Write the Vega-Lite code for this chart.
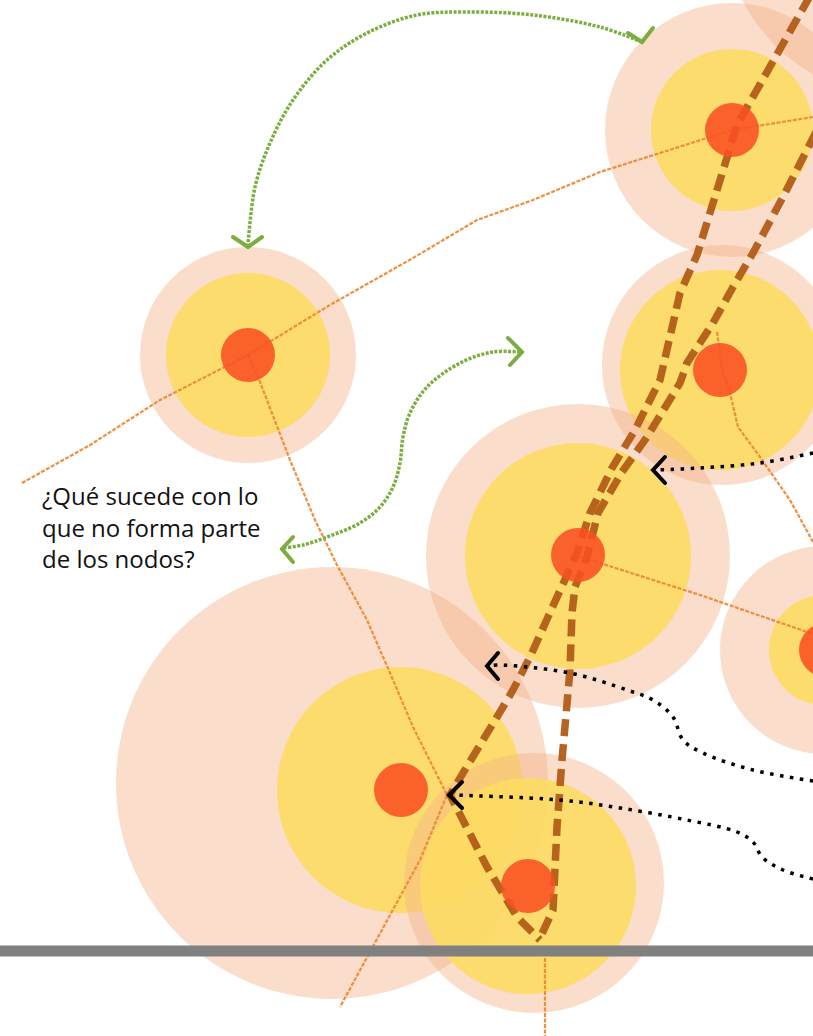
{
  "$schema": "https://vega.github.io/schema/vega-lite/v6.json",
  "width": 813,
  "height": 1036,
  "autosize": {"type": "fit", "contains": "padding"},
  "padding": 0,
  "background": "white",
  "config": {"view": {"stroke": null}},
  "datasets": {
    "circulos": [
      {"nodo": "N0", "capa": "halo", "x": 900, "y": -80, "r": 177},
      {"nodo": "N1", "capa": "halo", "x": 732, "y": 130, "r": 127},
      {"nodo": "N1", "capa": "area", "x": 732, "y": 130, "r": 81},
      {"nodo": "N2", "capa": "halo", "x": 248, "y": 355, "r": 108},
      {"nodo": "N2", "capa": "area", "x": 248, "y": 355, "r": 82},
      {"nodo": "N3", "capa": "halo", "x": 722, "y": 365, "r": 120},
      {"nodo": "N3", "capa": "area", "x": 720, "y": 370, "r": 100},
      {"nodo": "N5", "capa": "halo", "x": 824, "y": 650, "r": 104},
      {"nodo": "N5", "capa": "area", "x": 824, "y": 650, "r": 55},
      {"nodo": "N4", "capa": "halo", "x": 578, "y": 556, "r": 152},
      {"nodo": "N4", "capa": "area", "x": 578, "y": 556, "r": 113},
      {"nodo": "N6", "capa": "halo", "x": 332, "y": 783, "r": 216},
      {"nodo": "N6", "capa": "area", "x": 400, "y": 790, "r": 123},
      {"nodo": "N7", "capa": "halo", "x": 534, "y": 883, "r": 130},
      {"nodo": "N7", "capa": "area", "x": 528, "y": 886, "r": 108},
      {"nodo": "N1", "capa": "nucleo", "x": 732, "y": 130, "r": 27},
      {"nodo": "N2", "capa": "nucleo", "x": 248, "y": 355, "r": 27},
      {"nodo": "N3", "capa": "nucleo", "x": 720, "y": 370, "r": 27},
      {"nodo": "N4", "capa": "nucleo", "x": 578, "y": 555, "r": 27},
      {"nodo": "N5", "capa": "nucleo", "x": 826, "y": 650, "r": 27},
      {"nodo": "N6", "capa": "nucleo", "x": 401, "y": 790, "r": 27},
      {"nodo": "N7", "capa": "nucleo", "x": 528, "y": 886, "r": 27}
    ],
    "trazos": [
      {"tipo": "enlace", "id": "L1", "i": 0, "x": 22, "y": 483},
      {"tipo": "enlace", "id": "L1", "i": 1, "x": 90, "y": 445},
      {"tipo": "enlace", "id": "L1", "i": 2, "x": 160, "y": 400},
      {"tipo": "enlace", "id": "L1", "i": 3, "x": 248, "y": 355},
      {"tipo": "enlace", "id": "L1", "i": 4, "x": 330, "y": 305},
      {"tipo": "enlace", "id": "L1", "i": 5, "x": 413, "y": 258},
      {"tipo": "enlace", "id": "L1", "i": 6, "x": 477, "y": 220},
      {"tipo": "enlace", "id": "L1", "i": 7, "x": 533, "y": 200},
      {"tipo": "enlace", "id": "L1", "i": 8, "x": 600, "y": 172},
      {"tipo": "enlace", "id": "L1", "i": 9, "x": 660, "y": 153},
      {"tipo": "enlace", "id": "L1", "i": 10, "x": 732, "y": 130},
      {"tipo": "enlace", "id": "L1", "i": 11, "x": 813, "y": 117},
      {"tipo": "enlace", "id": "L2", "i": 0, "x": 248, "y": 355},
      {"tipo": "enlace", "id": "L2", "i": 1, "x": 260, "y": 382},
      {"tipo": "enlace", "id": "L2", "i": 2, "x": 290, "y": 460},
      {"tipo": "enlace", "id": "L2", "i": 3, "x": 315, "y": 520},
      {"tipo": "enlace", "id": "L2", "i": 4, "x": 337, "y": 565},
      {"tipo": "enlace", "id": "L2", "i": 5, "x": 367, "y": 620},
      {"tipo": "enlace", "id": "L2", "i": 6, "x": 390, "y": 673},
      {"tipo": "enlace", "id": "L2", "i": 7, "x": 413, "y": 727},
      {"tipo": "enlace", "id": "L2", "i": 8, "x": 447, "y": 795},
      {"tipo": "enlace", "id": "L2", "i": 9, "x": 420, "y": 860},
      {"tipo": "enlace", "id": "L2", "i": 10, "x": 340, "y": 1007},
      {"tipo": "enlace", "id": "L3", "i": 0, "x": 578, "y": 556},
      {"tipo": "enlace", "id": "L3", "i": 1, "x": 700, "y": 595},
      {"tipo": "enlace", "id": "L3", "i": 2, "x": 813, "y": 634},
      {"tipo": "enlace", "id": "L4", "i": 0, "x": 717, "y": 332},
      {"tipo": "enlace", "id": "L4", "i": 1, "x": 722, "y": 368},
      {"tipo": "enlace", "id": "L4", "i": 2, "x": 730, "y": 393},
      {"tipo": "enlace", "id": "L4", "i": 3, "x": 738, "y": 427},
      {"tipo": "enlace", "id": "L4", "i": 4, "x": 760, "y": 457},
      {"tipo": "enlace", "id": "L4", "i": 5, "x": 790, "y": 500},
      {"tipo": "enlace", "id": "L4", "i": 6, "x": 813, "y": 542},
      {"tipo": "enlace", "id": "L5", "i": 0, "x": 545, "y": 958},
      {"tipo": "enlace", "id": "L5", "i": 1, "x": 545, "y": 1036},
      {"tipo": "ruta", "id": "B1", "i": 0, "x": 810, "y": -4},
      {"tipo": "ruta", "id": "B1", "i": 1, "x": 737, "y": 125},
      {"tipo": "ruta", "id": "B1", "i": 2, "x": 697, "y": 255},
      {"tipo": "ruta", "id": "B1", "i": 3, "x": 680, "y": 293},
      {"tipo": "ruta", "id": "B1", "i": 4, "x": 660, "y": 380},
      {"tipo": "ruta", "id": "B1", "i": 5, "x": 635, "y": 430},
      {"tipo": "ruta", "id": "B1", "i": 6, "x": 612, "y": 468},
      {"tipo": "ruta", "id": "B1", "i": 7, "x": 590, "y": 513},
      {"tipo": "ruta", "id": "B1", "i": 8, "x": 577, "y": 553},
      {"tipo": "ruta", "id": "B1", "i": 9, "x": 548, "y": 617},
      {"tipo": "ruta", "id": "B1", "i": 10, "x": 530, "y": 657},
      {"tipo": "ruta", "id": "B1", "i": 11, "x": 513, "y": 690},
      {"tipo": "ruta", "id": "B1", "i": 12, "x": 503, "y": 707},
      {"tipo": "ruta", "id": "B1", "i": 13, "x": 463, "y": 773},
      {"tipo": "ruta", "id": "B1", "i": 14, "x": 450, "y": 795},
      {"tipo": "ruta", "id": "B1", "i": 15, "x": 487, "y": 867},
      {"tipo": "ruta", "id": "B1", "i": 16, "x": 517, "y": 917},
      {"tipo": "ruta", "id": "B1", "i": 17, "x": 540, "y": 940},
      {"tipo": "ruta", "id": "B2", "i": 0, "x": 816, "y": 132},
      {"tipo": "ruta", "id": "B2", "i": 1, "x": 783, "y": 197},
      {"tipo": "ruta", "id": "B2", "i": 2, "x": 753, "y": 253},
      {"tipo": "ruta", "id": "B2", "i": 3, "x": 733, "y": 287},
      {"tipo": "ruta", "id": "B2", "i": 4, "x": 713, "y": 323},
      {"tipo": "ruta", "id": "B2", "i": 5, "x": 687, "y": 363},
      {"tipo": "ruta", "id": "B2", "i": 6, "x": 680, "y": 383},
      {"tipo": "ruta", "id": "B2", "i": 7, "x": 647, "y": 437},
      {"tipo": "ruta", "id": "B2", "i": 8, "x": 622, "y": 472},
      {"tipo": "ruta", "id": "B2", "i": 9, "x": 598, "y": 513},
      {"tipo": "ruta", "id": "B2", "i": 10, "x": 587, "y": 557},
      {"tipo": "ruta", "id": "B2", "i": 11, "x": 575, "y": 587},
      {"tipo": "ruta", "id": "B2", "i": 12, "x": 572, "y": 613},
      {"tipo": "ruta", "id": "B2", "i": 13, "x": 570, "y": 670},
      {"tipo": "ruta", "id": "B2", "i": 14, "x": 562, "y": 760},
      {"tipo": "ruta", "id": "B2", "i": 15, "x": 557, "y": 827},
      {"tipo": "ruta", "id": "B2", "i": 16, "x": 553, "y": 910},
      {"tipo": "ruta", "id": "B2", "i": 17, "x": 540, "y": 938},
      {"tipo": "verde", "id": "G1", "i": 0, "x": 642, "y": 42},
      {"tipo": "verde", "id": "G1", "i": 1, "x": 600, "y": 27},
      {"tipo": "verde", "id": "G1", "i": 2, "x": 533, "y": 15},
      {"tipo": "verde", "id": "G1", "i": 3, "x": 467, "y": 12},
      {"tipo": "verde", "id": "G1", "i": 4, "x": 417, "y": 15},
      {"tipo": "verde", "id": "G1", "i": 5, "x": 367, "y": 33},
      {"tipo": "verde", "id": "G1", "i": 6, "x": 327, "y": 60},
      {"tipo": "verde", "id": "G1", "i": 7, "x": 293, "y": 100},
      {"tipo": "verde", "id": "G1", "i": 8, "x": 270, "y": 143},
      {"tipo": "verde", "id": "G1", "i": 9, "x": 255, "y": 187},
      {"tipo": "verde", "id": "G1", "i": 10, "x": 248, "y": 245},
      {"tipo": "verde", "id": "G2", "i": 0, "x": 520, "y": 352},
      {"tipo": "verde", "id": "G2", "i": 1, "x": 493, "y": 352},
      {"tipo": "verde", "id": "G2", "i": 2, "x": 460, "y": 363},
      {"tipo": "verde", "id": "G2", "i": 3, "x": 427, "y": 387},
      {"tipo": "verde", "id": "G2", "i": 4, "x": 410, "y": 413},
      {"tipo": "verde", "id": "G2", "i": 5, "x": 403, "y": 437},
      {"tipo": "verde", "id": "G2", "i": 6, "x": 400, "y": 463},
      {"tipo": "verde", "id": "G2", "i": 7, "x": 393, "y": 487},
      {"tipo": "verde", "id": "G2", "i": 8, "x": 380, "y": 507},
      {"tipo": "verde", "id": "G2", "i": 9, "x": 360, "y": 523},
      {"tipo": "verde", "id": "G2", "i": 10, "x": 327, "y": 537},
      {"tipo": "verde", "id": "G2", "i": 11, "x": 303, "y": 545},
      {"tipo": "verde", "id": "G2", "i": 12, "x": 283, "y": 548},
      {"tipo": "negro", "id": "K1", "i": 0, "x": 813, "y": 453},
      {"tipo": "negro", "id": "K1", "i": 1, "x": 760, "y": 463},
      {"tipo": "negro", "id": "K1", "i": 2, "x": 700, "y": 468},
      {"tipo": "negro", "id": "K1", "i": 3, "x": 655, "y": 470},
      {"tipo": "negro", "id": "K2", "i": 0, "x": 813, "y": 781},
      {"tipo": "negro", "id": "K2", "i": 1, "x": 753, "y": 770},
      {"tipo": "negro", "id": "K2", "i": 2, "x": 703, "y": 753},
      {"tipo": "negro", "id": "K2", "i": 3, "x": 683, "y": 740},
      {"tipo": "negro", "id": "K2", "i": 4, "x": 673, "y": 717},
      {"tipo": "negro", "id": "K2", "i": 5, "x": 653, "y": 700},
      {"tipo": "negro", "id": "K2", "i": 6, "x": 627, "y": 690},
      {"tipo": "negro", "id": "K2", "i": 7, "x": 570, "y": 673},
      {"tipo": "negro", "id": "K2", "i": 8, "x": 497, "y": 665},
      {"tipo": "negro", "id": "K2", "i": 9, "x": 489, "y": 666},
      {"tipo": "negro", "id": "K3", "i": 0, "x": 813, "y": 879},
      {"tipo": "negro", "id": "K3", "i": 1, "x": 783, "y": 870},
      {"tipo": "negro", "id": "K3", "i": 2, "x": 762, "y": 857},
      {"tipo": "negro", "id": "K3", "i": 3, "x": 753, "y": 842},
      {"tipo": "negro", "id": "K3", "i": 4, "x": 737, "y": 832},
      {"tipo": "negro", "id": "K3", "i": 5, "x": 687, "y": 820},
      {"tipo": "negro", "id": "K3", "i": 6, "x": 620, "y": 808},
      {"tipo": "negro", "id": "K3", "i": 7, "x": 560, "y": 800},
      {"tipo": "negro", "id": "K3", "i": 8, "x": 452, "y": 795}
    ],
    "puntas": [
      {"tipo": "verde", "id": "G1a", "i": 0, "x": 628, "y": 33},
      {"tipo": "verde", "id": "G1a", "i": 1, "x": 642, "y": 42},
      {"tipo": "verde", "id": "G1a", "i": 2, "x": 653, "y": 28},
      {"tipo": "verde", "id": "G1b", "i": 0, "x": 233, "y": 237},
      {"tipo": "verde", "id": "G1b", "i": 1, "x": 248, "y": 247},
      {"tipo": "verde", "id": "G1b", "i": 2, "x": 262, "y": 237},
      {"tipo": "verde", "id": "G2a", "i": 0, "x": 508, "y": 338},
      {"tipo": "verde", "id": "G2a", "i": 1, "x": 522, "y": 352},
      {"tipo": "verde", "id": "G2a", "i": 2, "x": 510, "y": 365},
      {"tipo": "verde", "id": "G2b", "i": 0, "x": 293, "y": 537},
      {"tipo": "verde", "id": "G2b", "i": 1, "x": 282, "y": 549},
      {"tipo": "verde", "id": "G2b", "i": 2, "x": 293, "y": 562},
      {"tipo": "negro", "id": "K1a", "i": 0, "x": 665, "y": 457},
      {"tipo": "negro", "id": "K1a", "i": 1, "x": 653, "y": 470},
      {"tipo": "negro", "id": "K1a", "i": 2, "x": 665, "y": 483},
      {"tipo": "negro", "id": "K2a", "i": 0, "x": 498, "y": 653},
      {"tipo": "negro", "id": "K2a", "i": 1, "x": 487, "y": 666},
      {"tipo": "negro", "id": "K2a", "i": 2, "x": 498, "y": 679},
      {"tipo": "negro", "id": "K3a", "i": 0, "x": 462, "y": 782},
      {"tipo": "negro", "id": "K3a", "i": 1, "x": 449, "y": 795},
      {"tipo": "negro", "id": "K3a", "i": 2, "x": 462, "y": 808}
    ],
    "suelo": [{"x": 0, "x2": 813, "y": 951}],
    "texto": [
      {"linea": 1, "x": 42, "y": 505, "t": "¿Qué sucede con lo"},
      {"linea": 2, "x": 42, "y": 537, "t": "que no forma parte"},
      {"linea": 3, "x": 42, "y": 568, "t": "de los nodos?"}
    ]
  },
  "encoding": {
    "x": {"field": "x", "type": "quantitative", "scale": {"domain": [0, 813], "nice": false, "zero": false}, "axis": null},
    "y": {"field": "y", "type": "quantitative", "scale": {"domain": [0, 1036], "nice": false, "zero": false, "reverse": true}, "axis": null}
  },
  "layer": [
    {
      "data": {"name": "circulos"},
      "transform": [{"filter": "datum.capa !== 'nucleo'"}],
      "mark": {"type": "point", "shape": "circle", "filled": true, "opacity": 1, "strokeWidth": 0, "clip": true},
      "encoding": {
        "size": {"field": "r", "type": "quantitative", "legend": null, "scale": {"type": "pow", "exponent": 2, "domain": [0, 1000], "range": [0, 4000000], "zero": true}},
        "fill": {"field": "capa", "type": "nominal", "legend": null, "scale": {"domain": ["halo", "area"], "range": ["#f4b48a", "#fcdb62"]}},
        "fillOpacity": {"field": "capa", "type": "nominal", "legend": null, "scale": {"domain": ["halo", "area"], "range": [0.45, 0.9]}}
      }
    },
    {
      "data": {"name": "trazos"},
      "transform": [{"filter": "datum.tipo === 'enlace'"}],
      "mark": {"type": "line", "stroke": "#ec8a36", "strokeWidth": 2.2, "strokeDash": [4, 1.5], "opacity": 0.95, "clip": true},
      "encoding": {"detail": {"field": "id"}, "order": {"field": "i", "type": "quantitative"}}
    },
    {
      "data": {"name": "trazos"},
      "transform": [{"filter": "datum.tipo === 'ruta'"}],
      "mark": {"type": "line", "stroke": "#b25c17", "strokeWidth": 7.5, "strokeDash": [17, 8], "strokeCap": "butt", "opacity": 0.95, "clip": true},
      "encoding": {"detail": {"field": "id"}, "order": {"field": "i", "type": "quantitative"}}
    },
    {
      "data": {"name": "circulos"},
      "transform": [{"filter": "datum.capa === 'nucleo'"}],
      "mark": {"type": "point", "shape": "circle", "filled": true, "fill": "#fa5022", "opacity": 1, "fillOpacity": 0.88, "strokeWidth": 0, "clip": true},
      "encoding": {"size": {"field": "r", "type": "quantitative", "legend": null, "scale": {"type": "pow", "exponent": 2, "domain": [0, 1000], "range": [0, 4000000], "zero": true}}}
    },
    {
      "data": {"name": "trazos"},
      "transform": [{"filter": "datum.tipo === 'verde'"}],
      "mark": {"type": "line", "stroke": "#7cad41", "strokeWidth": 3.5, "strokeDash": [3, 1.5], "strokeCap": "butt", "interpolate": "catmull-rom", "clip": true},
      "encoding": {"detail": {"field": "id"}, "order": {"field": "i", "type": "quantitative"}}
    },
    {
      "data": {"name": "trazos"},
      "transform": [{"filter": "datum.tipo === 'negro'"}],
      "mark": {"type": "line", "stroke": "#000000", "strokeWidth": 3.5, "strokeDash": [3.5, 6.5], "strokeCap": "butt", "interpolate": "catmull-rom", "clip": true},
      "encoding": {"detail": {"field": "id"}, "order": {"field": "i", "type": "quantitative"}}
    },
    {
      "data": {"name": "puntas"},
      "mark": {"type": "line", "strokeWidth": 4, "strokeCap": "round", "strokeJoin": "miter", "clip": true},
      "encoding": {
        "detail": {"field": "id"},
        "order": {"field": "i", "type": "quantitative"},
        "stroke": {"field": "tipo", "type": "nominal", "legend": null, "scale": {"domain": ["verde", "negro"], "range": ["#7cad41", "#000000"]}}
      }
    },
    {
      "data": {"name": "suelo"},
      "mark": {"type": "rule", "stroke": "#808080", "strokeWidth": 11, "strokeCap": "butt", "clip": true},
      "encoding": {"x2": {"field": "x2"}}
    },
    {
      "data": {"name": "texto"},
      "mark": {"type": "text", "align": "left", "baseline": "alphabetic", "font": "Open Sans", "fontSize": 24, "fill": "#111111"},
      "encoding": {"text": {"field": "t"}}
    }
  ]
}
